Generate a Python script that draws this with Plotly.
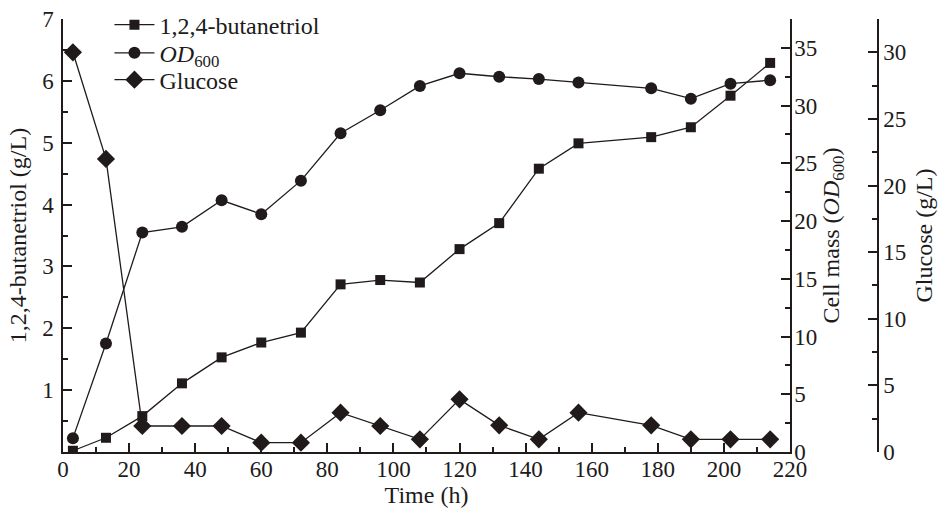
import plotly.graph_objects as go

time_h = [3, 13, 24, 36, 48, 60, 72, 84, 96, 108, 120, 132, 144, 156, 178, 190, 202, 214]
butanetriol = [0.02, 0.23, 0.58, 1.11, 1.53, 1.77, 1.93, 2.71, 2.78, 2.74, 3.28, 3.70, 4.58, 4.99, 5.09, 5.25, 5.76, 6.29]
od600 = [1.2, 9.4, 19.0, 19.5, 21.8, 20.6, 23.5, 27.6, 29.6, 31.7, 32.8, 32.5, 32.3, 32.0, 31.5, 30.6, 31.9, 32.2]
glucose = [30.0, 22.0, 1.95, 1.95, 1.95, 0.7, 0.7, 2.95, 1.95, 0.95, 3.95, 2.0, 0.95, 2.95, 2.0, 0.95, 0.95, 0.95]

INK = "#201a1b"
FONT = "Liberation Serif"
FS = 23
TFS = 24
LFS = 24

fig = go.Figure()
fig.add_trace(go.Scatter(x=time_h, y=butanetriol, name="1,2,4-butanetriol", mode="lines+markers",
                         line=dict(color=INK, width=1.3), legend="legend",
                         marker=dict(symbol="square", size=10, color=INK), yaxis="y"))
fig.add_trace(go.Scatter(x=time_h, y=od600, name="<i>OD</i><sub>600</sub>", mode="lines+markers",
                         line=dict(color=INK, width=1.3), legend="legend2",
                         marker=dict(symbol="circle", size=12, color=INK), yaxis="y2"))
fig.add_trace(go.Scatter(x=time_h, y=glucose, name="Glucose", mode="lines+markers",
                         line=dict(color=INK, width=1.3), legend="legend3",
                         marker=dict(symbol="diamond", size=14, color=INK), yaxis="y3"))

axis_common = dict(showline=True, linecolor=INK, linewidth=1.5, ticks="inside", ticklen=9,
                   tickwidth=1.5, tickcolor=INK, showgrid=False, zeroline=False, automargin=False,
                   tickfont=dict(family=FONT, size=FS, color=INK))

def ttl(text, standoff):
    return dict(text=text, font=dict(family=FONT, size=TFS, color=INK), standoff=standoff)

def leg(y):
    return dict(x=0.057, y=y, xanchor="left", yanchor="middle", bgcolor="rgba(0,0,0,0)",
                font=dict(family=FONT, size=LFS, color=INK), itemwidth=40)

fig.update_layout(
    width=943, height=513,
    margin=dict(l=63, r=65, t=19, b=61, autoexpand=False),
    paper_bgcolor="white", plot_bgcolor="white",
    font=dict(family=FONT, size=FS, color=INK),
    showlegend=True,
    legend=leg(0.986), legend2=leg(0.921), legend3=leg(0.859),
    xaxis=dict(range=[0, 220], domain=[0, 0.892], tick0=0, dtick=20, ticklabelstandoff=-4,
               minor=dict(ticks="inside", ticklen=5, dtick=10, tickwidth=1.5, tickcolor=INK),
               title=ttl("Time (h)", 0), **axis_common),
    yaxis=dict(range=[0, 7], tick0=0, dtick=1, labelalias={"0": " "}, ticklabelstandoff=3,
               minor=dict(ticks="inside", ticklen=5, dtick=0.5, tickwidth=1.5, tickcolor=INK),
               title=ttl("1,2,4-butanetriol (g/L)", 9), **axis_common),
    yaxis2=dict(range=[0, 37.5], tick0=0, dtick=5, overlaying="y", side="right", anchor="x",
                ticklabelstandoff=-2,
                minor=dict(ticks="inside", ticklen=5, dtick=2.5, tickwidth=1.5, tickcolor=INK),
                title=ttl("Cell mass (<i>OD</i><sub>600</sub>)", 6), **axis_common),
    yaxis3=dict(range=[0, 32.5], tick0=0, dtick=5, overlaying="y", side="right", anchor="free", position=1.0,
                minor=dict(ticks="inside", ticklen=5, dtick=2.5, tickwidth=1.5, tickcolor=INK),
                title=ttl("Glucose (g/L)", 9), **axis_common),
)

fig.write_html("out.html", config={"displayModeBar": False},
               post_script="document.body.style.margin='0';")
